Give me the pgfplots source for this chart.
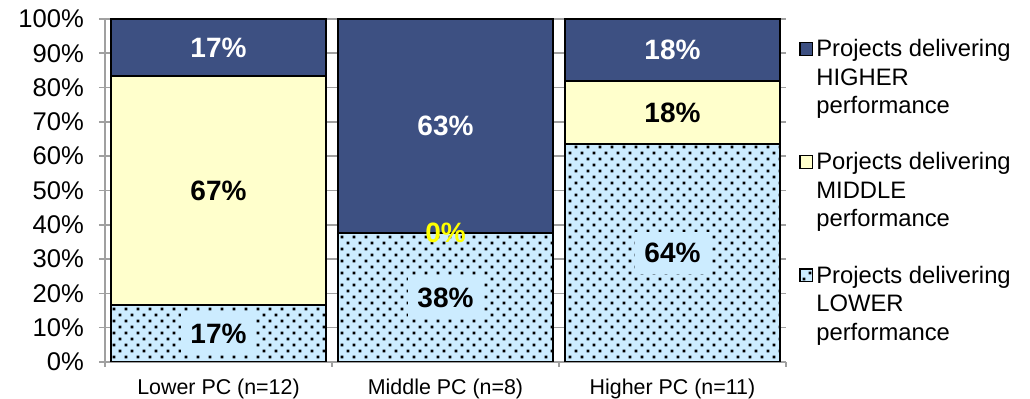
\documentclass[border=0pt]{standalone}
\usepackage{fontspec}
\setmainfont{Liberation Sans}
\usepackage{pgfplots}
\pgfplotsset{compat=1.18}
\usetikzlibrary{patterns}
\definecolor{dblue}{RGB}{61,80,130}
\definecolor{lyellow}{RGB}{255,255,204}
\definecolor{lblue}{RGB}{204,236,255}
\definecolor{gridgray}{RGB}{160,160,160}
\definecolor{lblyellow}{RGB}{255,255,0}
\pgfdeclarepatternformonly{xldots}{\pgfqpoint{-0.65pt}{-0.65pt}}{\pgfqpoint{3.65pt}{3.65pt}}{\pgfqpoint{6pt}{6pt}}{%
  \pgfpathrectangle{\pgfqpoint{-0.65pt}{-0.65pt}}{\pgfqpoint{1.3pt}{1.3pt}}%
  \pgfpathrectangle{\pgfqpoint{2.35pt}{2.35pt}}{\pgfqpoint{1.3pt}{1.3pt}}%
  \pgfusepath{fill}}
\newcommand{\legtext}[1]{\parbox[t]{110pt}{\baselineskip=14.3pt #1}}
\begin{document}
\begin{tikzpicture}
\path[use as bounding box] (0,0) rectangle (515pt,199.5pt);
\pgfplotsset{common/.style={
  scale only axis, width=340.5pt, height=171.5pt,
  at={(52.5pt,18.5pt)}, anchor=south west,
  xmin=-0.5, xmax=2.5, ymin=0, ymax=100,
}}
\begin{axis}[common, ybar stacked, bar width=0.95,
  axis x line*=bottom, axis y line*=left,
  axis line style={gridgray, line width=0.8pt},
  ytick={0,10,...,100},
  yticklabels={0\%,10\%,20\%,30\%,40\%,50\%,60\%,70\%,80\%,90\%,100\%},
  yticklabel style={font=\fontsize{12.8}{15}\selectfont, xshift=-4pt},
  xtick={0,1,2},
  xticklabels={{Lower PC (n=12)},{Middle PC (n=8)},{Higher PC (n=11)}},
  xticklabel style={font=\fontsize{10.7}{13}\selectfont, yshift=-2pt},
  minor xtick={-0.5,0.5,1.5,2.5},
  tick align=center,
  major tick length=6pt,
  minor tick length=2.5pt,
  major x tick style={draw=none},
  minor x tick style={gridgray, line width=0.8pt, yshift=-1.25pt},
  major y tick style={gridgray, line width=0.8pt},
  ymajorgrids, grid style={gridgray, line width=0.8pt},
  reverse legend,
  legend image code/.code={\draw[#1, line width=0.6pt] (0pt,0.6pt) rectangle (6.4pt,7pt);},
  legend style={draw=none, fill=none, at={(1.019,0.942)}, anchor=north west,
    inner sep=0pt, row sep=46.5pt, column sep=1.5pt,
    font=\fontsize{11.9}{14}\selectfont,
    nodes={inner sep=0pt, anchor=base west}},
]
\addplot[fill=lblue, draw=black, line width=1pt, postaction={pattern=xldots}]
  coordinates {(0,16.67) (1,37.5) (2,63.64)};
\addlegendentry{\legtext{Projects delivering\newline LOWER\newline performance}}
\addplot[fill=lyellow, draw=black, line width=1pt]
  coordinates {(0,66.67) (1,0) (2,18.18)};
\addlegendentry{\legtext{Porjects delivering\newline MIDDLE\newline performance}}
\addplot[fill=dblue, draw=black, line width=1pt]
  coordinates {(0,16.67) (1,62.5) (2,18.18)};
\addlegendentry{\legtext{Projects delivering\newline HIGHER\newline performance}}
\end{axis}
\begin{axis}[common, hide axis]
\addplot[draw=none, nodes near coords, point meta=explicit symbolic,
  every node near coord/.style={font=\bfseries\fontsize{14}{16}\selectfont, text=white, anchor=center}]
  coordinates {(0,91.67) [17\%] (1,68.75) [63\%] (2,90.91) [18\%]};
\addplot[draw=none, nodes near coords, point meta=explicit symbolic,
  every node near coord/.style={font=\bfseries\fontsize{14}{16}\selectfont, text=black, anchor=center}]
  coordinates {(0,50) [67\%] (2,72.73) [18\%]};
\addplot[draw=none, nodes near coords, point meta=explicit symbolic,
  every node near coord/.style={font=\bfseries\fontsize{14}{16}\selectfont, text=lblyellow, anchor=center}]
  coordinates {(1,37.5) [0\%]};
\addplot[draw=none, nodes near coords, point meta=explicit symbolic,
  every node near coord/.style={font=\bfseries\fontsize{14}{16}\selectfont, text=black, fill=lblue, inner xsep=4.5pt, inner ysep=5.5pt, anchor=center}]
  coordinates {(0,8.33) [17\%] (1,18.75) [38\%] (2,31.82) [64\%]};
\end{axis}
\end{tikzpicture}
\end{document}
